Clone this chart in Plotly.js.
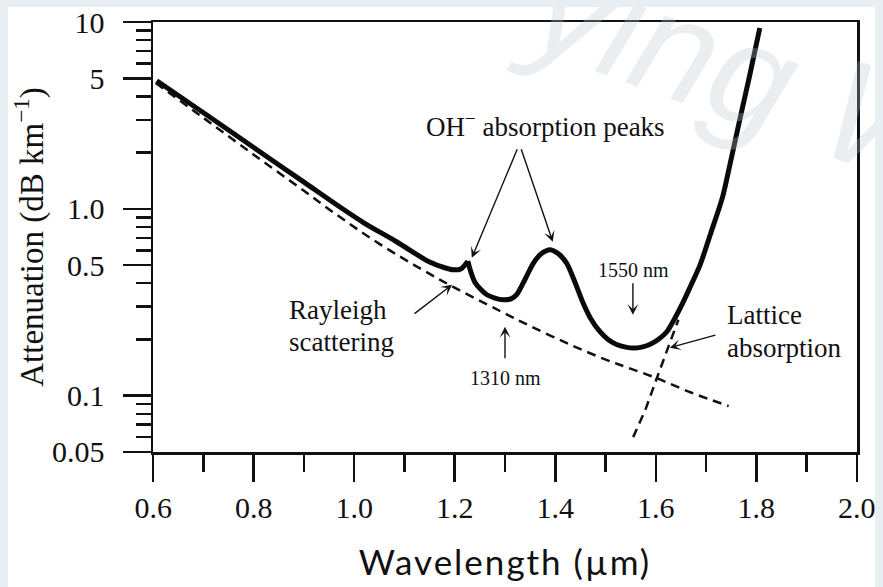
<!DOCTYPE html>
<html>
<head>
<meta charset="utf-8">
<script src="https://cdn.plot.ly/plotly-3.0.1.min.js"></script>
<style>
  html, body { margin: 0; padding: 0; background: #e9eef3; width: 883px; height: 587px; overflow: hidden; }
  #chart { position: absolute; left: 8px; top: 7px; width: 867px; height: 580px; background: #ffffff; overflow: hidden; }
  #chart .xtitle { letter-spacing: 2px; }
</style>
</head>
<body>
<div id="chart"></div>
<script>
// ---- data ----
const totalWavelength = [0.607, 0.70, 0.80, 0.90, 0.97, 1.02, 1.085, 1.15, 1.18, 1.197, 1.212, 1.226,
  1.232, 1.240, 1.252, 1.264, 1.280, 1.296, 1.312, 1.324, 1.340, 1.356, 1.372, 1.390, 1.408, 1.423,
  1.440, 1.455, 1.470, 1.489, 1.505, 1.522, 1.540, 1.556, 1.572, 1.588, 1.605, 1.622, 1.638, 1.654,
  1.670, 1.688, 1.710, 1.733, 1.750, 1.767, 1.787, 1.807];
const totalAttenuation = [4.85, 3.27, 2.13, 1.39, 1.03, 0.84, 0.665, 0.519, 0.484, 0.472, 0.477, 0.525,
  0.46, 0.405, 0.37, 0.347, 0.333, 0.326, 0.33, 0.35, 0.42, 0.51, 0.575, 0.605, 0.57, 0.51,
  0.40, 0.315, 0.26, 0.22, 0.20, 0.188, 0.182, 0.18, 0.182, 0.188, 0.20, 0.22, 0.26, 0.315,
  0.39, 0.50, 0.75, 1.16, 1.85, 2.99, 5.2, 9.3];
const spikeWavelength = 1.226;   // sharp OH- peak where the curve has a cusp

const rayleighWavelength = [0.605, 0.70, 0.80, 0.90, 0.958, 1.05, 1.171, 1.29, 1.35, 1.43, 1.503, 1.542, 1.602, 1.67, 1.745];
const rayleighAttenuation = [4.72, 3.07, 1.95, 1.25, 0.96, 0.65, 0.417, 0.284, 0.236, 0.1875, 0.155, 0.142, 0.124, 0.104, 0.088];

const latticeWavelength = [1.555, 1.58, 1.602, 1.625, 1.645];
const latticeAttenuation = [0.06, 0.085, 0.124, 0.18, 0.255];

const xTickVals = [0.6, 0.8, 1.0, 1.2, 1.4, 1.6, 1.8, 2.0];
const xTickText = ['0.6', '0.8', '1.0', '1.2', '1.4', '1.6', '1.8', '2.0'];
const xMinorVals = [0.7, 0.9, 1.1, 1.3, 1.5, 1.7, 1.9];
const yTickVals = [0.05, 0.1, 0.5, 1, 5, 10];
const yTickText = ['0.05', '0.1', '0.5', '1.0', '5', '10'];
const yMinorVals = [0.06, 0.07, 0.08, 0.09, 0.2, 0.3, 0.4, 0.6, 0.7, 0.8, 0.9, 2, 3, 4, 6, 7, 8, 9];

// ---- build traces ----
const cut = totalWavelength.indexOf(spikeWavelength);
const solidLine = {color: '#0a0a0a', width: 5, shape: 'spline', smoothing: 0.8};
const traces = [
  {x: totalWavelength.slice(0, cut + 1), y: totalAttenuation.slice(0, cut + 1), mode: 'lines', line: solidLine, hoverinfo: 'skip'},
  {x: totalWavelength.slice(cut), y: totalAttenuation.slice(cut), mode: 'lines', line: solidLine, hoverinfo: 'skip'},
  {x: rayleighWavelength, y: rayleighAttenuation, mode: 'lines',
   line: {color: '#111', width: 2.5, dash: '9px,6px', shape: 'spline', smoothing: 1}, hoverinfo: 'skip'},
  {x: latticeWavelength, y: latticeAttenuation, mode: 'lines',
   line: {color: '#111', width: 2.5, dash: '9px,6px'}, hoverinfo: 'skip'}
];

const serif = 'Liberation Serif, Times New Roman, serif';
const L = v => Math.log10(v);
const eps = 0.0004;
const arrowStyle = {showarrow: true, arrowhead: 3, arrowsize: 1.3, arrowwidth: 1.4, arrowcolor: '#111', text: ''};

const annotations = [
  // faint watermark seen in the scan
  {x: 0.85, y: 0.877, xref: 'paper', yref: 'paper', xanchor: 'center', yanchor: 'middle',
   text: 'ying W', showarrow: false, textangle: 20,
   font: {family: 'Liberation Sans, Arial, sans-serif', size: 145, color: 'rgba(190,198,208,0.3)', style: 'italic'}},

  {x: 1.381, y: 0.449, xref: 'x', yref: 'y', text: 'OH<sup>\u2212</sup> absorption peaks', showarrow: false,
   font: {family: serif, size: 27, color: '#111'}},
  Object.assign({x: 1.234, y: -0.262, xref: 'x', yref: 'y', ax: 46, ay: -110}, arrowStyle),
  Object.assign({x: 1.395, y: -0.176, xref: 'x', yref: 'y', ax: -32, ay: -94}, arrowStyle),

  {x: 0.8665, y: -0.540, xref: 'x', yref: 'y', xanchor: 'left', text: 'Rayleigh', showarrow: false,
   font: {family: serif, size: 27, color: '#111'}},
  {x: 0.8665, y: -0.711, xref: 'x', yref: 'y', xanchor: 'left', text: 'scattering', showarrow: false,
   font: {family: serif, size: 27, color: '#111'}},
  Object.assign({x: 1.1946, y: -0.406, xref: 'x', yref: 'y', ax: -39, ay: 30}, arrowStyle),

  {x: 1.300, y: -0.904, xref: 'x', yref: 'y', text: '1310 nm', showarrow: false,
   font: {family: serif, size: 20, color: '#111'}},
  Object.assign({x: 1.300, y: -0.631, xref: 'x', yref: 'y', ax: 0, ay: 33}, arrowStyle),

  {x: 1.5565, y: -0.326, xref: 'x', yref: 'y', text: '1550 nm', showarrow: false,
   font: {family: serif, size: 20, color: '#111'}},
  Object.assign({x: 1.5545, y: -0.567, xref: 'x', yref: 'y', ax: 0, ay: -33}, arrowStyle),

  {x: 1.7374, y: -0.567, xref: 'x', yref: 'y', xanchor: 'left', text: 'Lattice', showarrow: false,
   font: {family: serif, size: 27, color: '#111'}},
  {x: 1.7374, y: -0.743, xref: 'x', yref: 'y', xanchor: 'left', text: 'absorption', showarrow: false,
   font: {family: serif, size: 27, color: '#111'}},
  Object.assign({x: 1.628, y: -0.743, xref: 'x', yref: 'y', ax: 47, ay: -13}, arrowStyle)
];

const layout = {
  width: 867, height: 580,
  margin: {l: 145, r: 18, t: 15, b: 135},
  paper_bgcolor: '#ffffff', plot_bgcolor: '#ffffff',
  showlegend: false,
  xaxis: {
    range: [0.6 - eps, 2.0 + eps], showgrid: false, zeroline: false,
    showline: true, linecolor: '#111', linewidth: 2.5, mirror: true,
    tickmode: 'array', tickvals: xTickVals, ticktext: xTickText,
    ticks: 'outside', ticklen: 27, tickwidth: 2.5, tickcolor: '#111',
    ticklabelstandoff: 0, ticklabeloverflow: 'allow',
    tickfont: {family: serif, size: 30, color: '#111'},
    minor: {tickmode: 'array', tickvals: xMinorVals, ticks: 'outside', ticklen: 17, tickwidth: 2.5, tickcolor: '#111', showgrid: false},
    title: {text: 'Wavelength (\u00b5m)', standoff: 28, font: {family: 'Lato, Open Sans, sans-serif', size: 35, color: '#111'}},
    automargin: false
  },
  yaxis: {
    type: 'log', range: [L(0.05) - eps, L(10) + eps], showgrid: false, zeroline: false,
    showline: true, linecolor: '#111', linewidth: 2.5, mirror: true,
    tickmode: 'array', tickvals: yTickVals, ticktext: yTickText,
    ticks: 'outside', ticklen: 28, tickwidth: 2.5, tickcolor: '#111',
    ticklabelstandoff: 12, ticklabeloverflow: 'allow',
    tickfont: {family: serif, size: 30, color: '#111'},
    minor: {tickmode: 'array', tickvals: yMinorVals, ticks: 'outside', ticklen: 15, tickwidth: 2.5, tickcolor: '#111', showgrid: false},
    title: {text: 'Attenuation (dB km<sup>\u22121</sup>)', standoff: 2, font: {family: serif, size: 33, color: '#111'}},
    automargin: false
  },
  annotations: annotations
};

Plotly.newPlot('chart', traces, layout, {staticPlot: true, displayModeBar: false});
</script>
</body>
</html>
